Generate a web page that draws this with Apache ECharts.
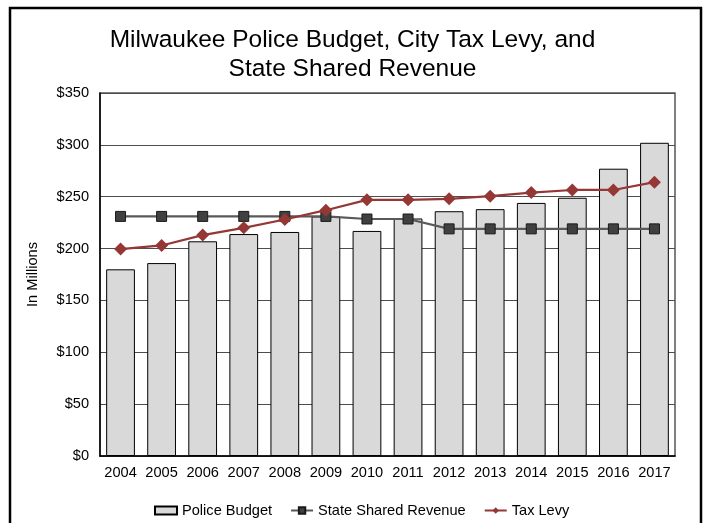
<!DOCTYPE html>
<html>
<head>
<meta charset="utf-8">
<script src="https://cdn.jsdelivr.net/npm/echarts@6/dist/echarts.min.js"></script>
<style>
  html, body { margin: 0; padding: 0; background: #fff; }
  #chart { width: 705px; height: 523px; }
</style>
</head>
<body>
<div id="chart"></div>
<script>
// Fiscal years shown on the category axis
const years = ['2004', '2005', '2006', '2007', '2008', '2009', '2010',
               '2011', '2012', '2013', '2014', '2015', '2016', '2017'];

// Amounts in millions of dollars
const policeBudget = [180, 186, 207, 214, 216, 231, 217, 229, 236, 238, 244, 249, 277, 302];
const stateSharedRevenue = [231, 231, 231, 231, 231, 231, 228.5, 228.5, 219, 219, 219, 219, 219, 219];
const taxLevy = [199.5, 203, 213, 220, 228, 237, 247, 247, 248, 250.5, 254, 256.5, 256.5, 264];

// Value axis ticks
const yTicks = [0, 50, 100, 150, 200, 250, 300, 350];

const FONT = '"Liberation Sans", Arial, sans-serif';

const chart = echarts.init(document.getElementById('chart'), null, { renderer: 'canvas' });

chart.setOption({
  animation: false,
  backgroundColor: '#ffffff',
  textStyle: { fontFamily: FONT },
  title: {
    text: 'Milwaukee Police Budget, City Tax Levy, and\nState Shared Revenue',
    left: 'center',
    top: 26,
    padding: 0,
    textStyle: {
      fontFamily: FONT,
      fontSize: 24.5,
      fontWeight: 'normal',
      color: '#000',
      lineHeight: 29,
      align: 'center'
    }
  },
  graphic: [{
    type: 'rect',
    shape: { x: 10, y: 8, width: 691, height: 540 },
    style: { fill: 'none', stroke: '#000', lineWidth: 2.5 },
    silent: true,
    z: 100
  }],
  legend: {
    left: 149,
    top: 498,
    itemGap: 18,
    itemWidth: 22,
    itemHeight: 8,
    textStyle: { fontFamily: FONT, fontSize: 14.6, color: '#000' },
    data: [
      { name: 'Police Budget', icon: 'rect' },
      { name: 'State Shared Revenue' },
      { name: 'Tax Levy' }
    ]
  },
  grid: {
    left: 100,
    right: 30,
    top: 93,
    bottom: 67,
    show: true,
    borderColor: '#555',
    borderWidth: 1.5
  },
  xAxis: {
    type: 'category',
    data: years,
    axisLine: { show: true, lineStyle: { color: '#000', width: 1.5 } },
    axisTick: { show: false },
    axisLabel: { fontFamily: FONT, fontSize: 14.6, color: '#000', margin: 9, interval: 0 }
  },
  yAxis: {
    type: 'value',
    min: yTicks[0],
    max: yTicks[yTicks.length - 1],
    interval: 50,
    name: 'In Millions',
    nameLocation: 'middle',
    nameGap: 60,
    nameTextStyle: { fontFamily: FONT, fontSize: 14.6, color: '#000' },
    axisLine: { show: true, lineStyle: { color: '#000', width: 1.5 } },
    axisTick: { show: false },
    axisLabel: {
      fontFamily: FONT,
      fontSize: 14.6,
      color: '#000',
      margin: 11,
      formatter: v => '$' + v
    },
    splitLine: { show: true, lineStyle: { color: '#4d4d4d', width: 1.2 } }
  },
  series: [
    {
      name: 'Police Budget',
      type: 'bar',
      data: policeBudget,
      barWidth: '70%',
      itemStyle: { color: '#d9d9d9', borderColor: '#000', borderWidth: 1 },
      z: 2
    },
    {
      name: 'State Shared Revenue',
      type: 'line',
      data: stateSharedRevenue,
      symbol: 'rect',
      symbolSize: 10,
      lineStyle: { color: '#595959', width: 2.2 },
      itemStyle: { color: '#404040', borderColor: '#1a1a1a', borderWidth: 1 },
      z: 3
    },
    {
      name: 'Tax Levy',
      type: 'line',
      data: taxLevy,
      symbol: 'diamond',
      symbolSize: 13,
      lineStyle: { color: '#953735', width: 2.2 },
      itemStyle: { color: '#953735' },
      z: 4
    }
  ]
});
</script>
</body>
</html>
